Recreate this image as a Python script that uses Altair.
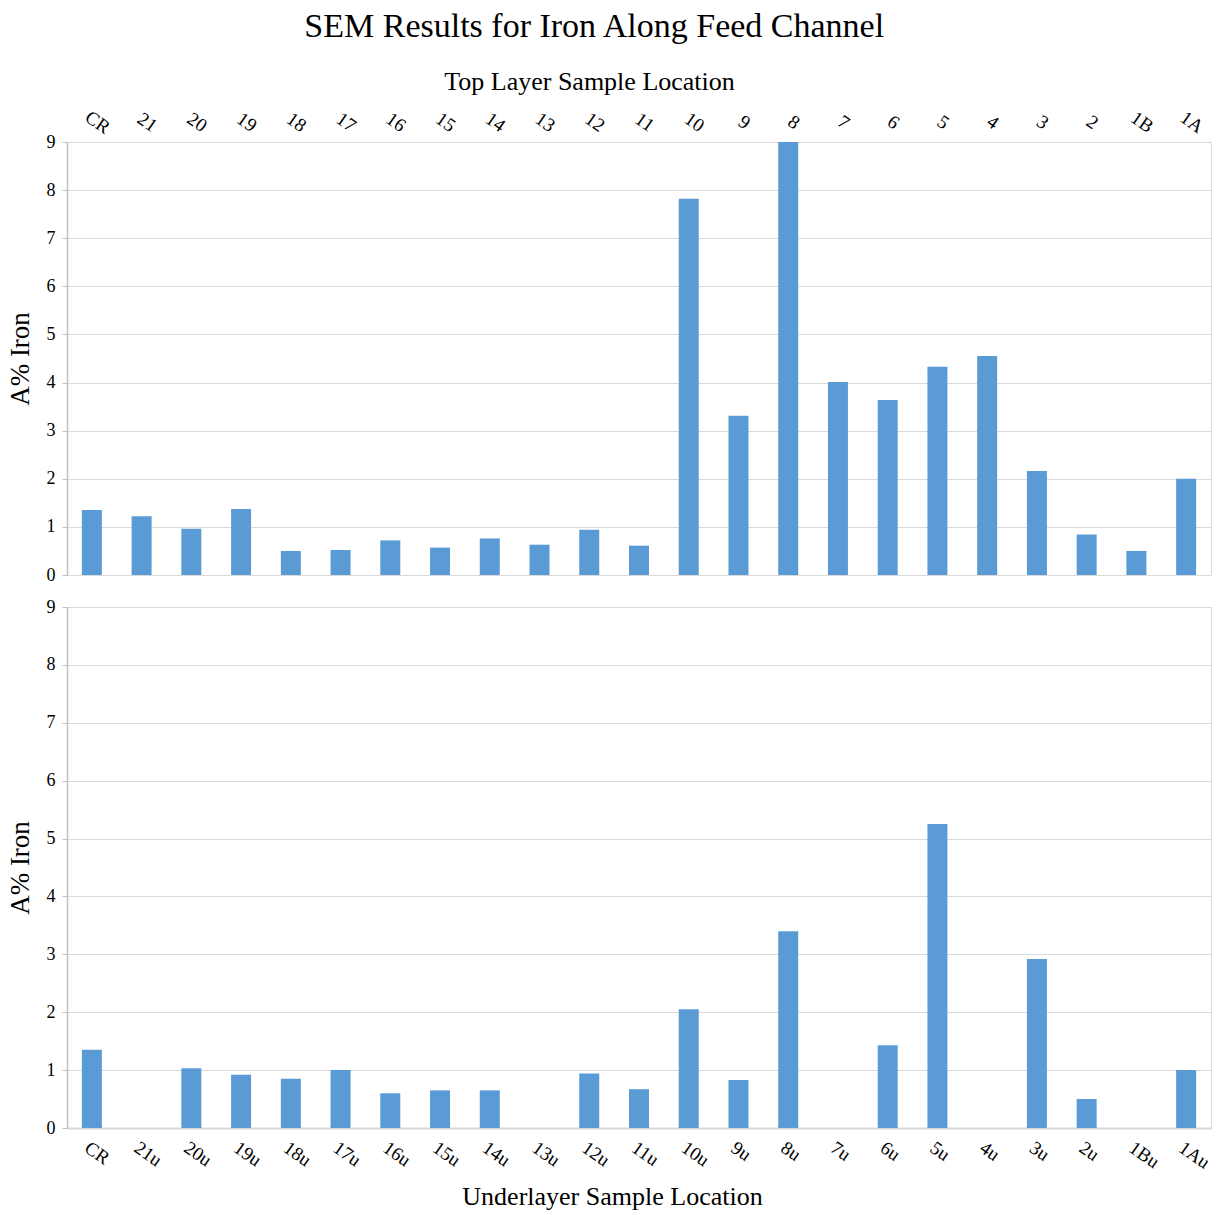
import altair as alt
import pandas as pd

top_labels = ["CR", "21", "20", "19", "18", "17", "16", "15", "14", "13", "12", "11",
              "10", "9", "8", "7", "6", "5", "4", "3", "2", "1B", "1A"]
top_values = [1.35, 1.22, 0.96, 1.37, 0.50, 0.52, 0.72, 0.57, 0.76, 0.63, 0.94, 0.61,
              7.82, 3.31, 9.00, 4.01, 3.64, 4.33, 4.55, 2.16, 0.84, 0.50, 2.00]

bottom_labels = ["CR", "21u", "20u", "19u", "18u", "17u", "16u", "15u", "14u", "13u", "12u", "11u",
                 "10u", "9u", "8u", "7u", "6u", "5u", "4u", "3u", "2u", "1Bu", "1Au"]
bottom_values = [1.35, None, 1.03, 0.92, 0.85, 1.00, 0.60, 0.65, 0.65, None, 0.94, 0.67,
                 2.05, 0.83, 3.40, None, 1.43, 5.25, None, 2.92, 0.50, None, 1.00]

y_ticks = [0, 1, 2, 3, 4, 5, 6, 7, 8, 9]

top_df = pd.DataFrame({"loc": top_labels, "val": top_values})
bot_df = pd.DataFrame({"loc": bottom_labels, "val": bottom_values})

FONT = "Liberation Serif"
BAR = "#5B9BD5"
W = 1144

y_axis = dict(values=y_ticks, grid=True, gridColor="#d9d9d9", domainColor="#bfbfbf",
              domainWidth=1.5, tickColor="#bfbfbf", tickSize=5, labelFontSize=18,
              labelColor="black", labelFont=FONT, labelPadding=7, title="A% Iron",
              titleFont=FONT, titleFontSize=27, titleFontWeight="normal", titleColor="black",
              titlePadding=12)

top = alt.Chart(top_df).mark_bar(color=BAR, width=20).encode(
    x=alt.X("loc:N", sort=top_labels,
            scale=alt.Scale(domain=top_labels, paddingInner=0.6, paddingOuter=0.3),
            axis=alt.Axis(orient="top", labelAngle=35, labelAlign="center", labelBaseline="bottom",
                          labelFontSize=19, labelFont=FONT, labelColor="black", labelPadding=12,
                          ticks=False, domainColor="#d9d9d9", title="Top Layer Sample Location",
                          titleFont=FONT, titleFontSize=26, titleFontWeight="normal",
                          titleColor="black", titlePadding=13, titleX=522)),
    y=alt.Y("val:Q", scale=alt.Scale(domain=[0, 9], clamp=True, nice=False),
            axis=alt.Axis(**y_axis)),
).properties(width=W, height=433)

bottom = alt.Chart(bot_df).mark_bar(color=BAR, width=20).encode(
    x=alt.X("loc:N", sort=bottom_labels,
            scale=alt.Scale(domain=bottom_labels, paddingInner=0.6, paddingOuter=0.3),
            axis=alt.Axis(orient="bottom", labelAngle=35, labelAlign="left", labelBaseline="top",
                          labelFontSize=19, labelFont=FONT, labelColor="black", labelPadding=10,
                          ticks=False, domainColor="#d9d9d9", domainWidth=2,
                          title="Underlayer Sample Location",
                          titleFont=FONT, titleFontSize=26, titleFontWeight="normal",
                          titleColor="black", titlePadding=11, titleX=545)),
    y=alt.Y("val:Q", scale=alt.Scale(domain=[0, 9], nice=False),
            axis=alt.Axis(**y_axis)),
).properties(width=W, height=521)

chart = alt.vconcat(top, bottom, spacing=32, bounds="flush").properties(
    title=alt.TitleParams("SEM Results for Iron Along Feed Channel", font=FONT, fontSize=34,
                          fontWeight="normal", color="black", anchor="middle", dx=-15, offset=24),
    padding={"left": 5, "top": 9, "right": 10, "bottom": 5},
).configure_view(stroke="#d9d9d9").configure(background="white")

chart.save("out.html", embed_options={"renderer": "svg", "actions": False})
